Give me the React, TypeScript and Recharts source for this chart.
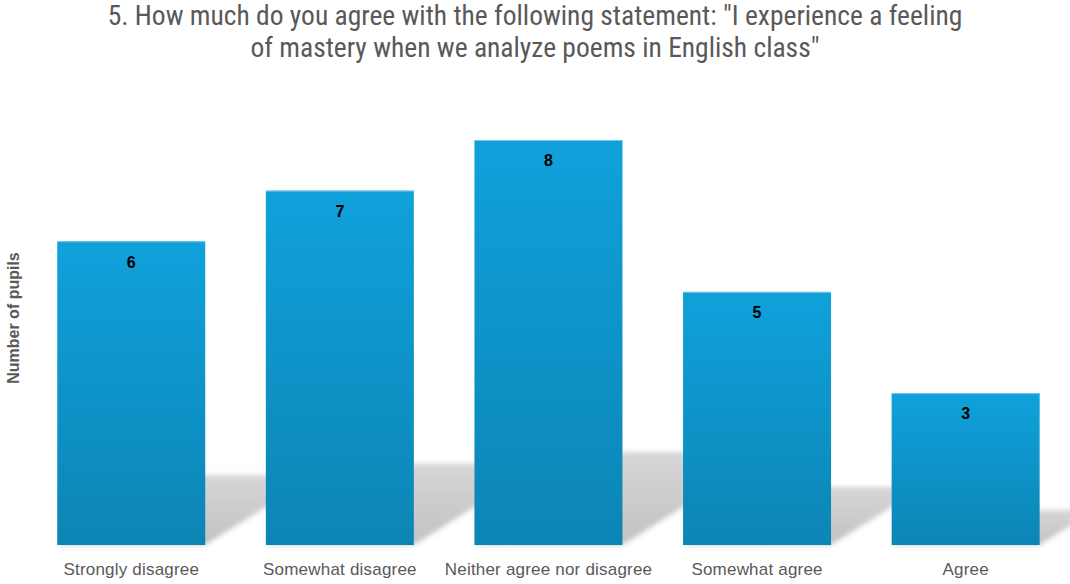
import React from 'react';
import { BarChart, Bar, XAxis, YAxis, LabelList } from 'recharts';

const categories = ['Strongly disagree', 'Somewhat disagree', 'Neither agree nor disagree', 'Somewhat agree', 'Agree'];
const pupils = [6, 7, 8, 5, 3];

const data = categories.map((c, i) => ({ category: c, pupils: pupils[i] }));

const BarShape = (props: any) => {
  const { x, y, width, height } = props;
  const base = y + height;
  const sh = height * 0.23;
  const dx = sh * 1.6;
  const pts = `${x},${base} ${x + width},${base} ${x + width + dx},${base - sh} ${x + dx},${base - sh}`;
  return (
    <g>
      <polygon points={pts} fill="url(#shadowGrad)" filter="url(#shadowBlur)" />
      <rect x={x} y={y} width={width} height={height} fill="url(#barGrad)" />
      <line x1={x} x2={x + width} y1={y + 0.5} y2={y + 0.5} stroke="#6fc6ea" strokeWidth={1} />
    </g>
  );
};

const Tick = (props: any) => {
  const { x, y, payload } = props;
  return (
    <text x={x} y={y + 22} textAnchor="middle" fill="#595959" fontSize={17} fontFamily="'Liberation Sans', Arial, sans-serif" letterSpacing={0.2}>
      {payload.value}
    </text>
  );
};

const YLabel = () => (
  <text
    transform="translate(19,318) rotate(-90)"
    textAnchor="middle"
    fill="#595959"
    fontSize={16}
    fontWeight="bold"
    fontFamily="'Liberation Sans', Arial, sans-serif"
  >
    Number of pupils
  </text>
);

export default function App() {
  return (
    <div style={{ position: 'absolute', left: 0, top: 0, width: 1070, height: 584, background: '#fff' }}>
      <div
        style={{
          position: 'absolute',
          left: 0,
          top: 0,
          width: 1070,
          textAlign: 'center',
          color: '#595959',
          fontFamily: "'Liberation Sans Narrow', 'Roboto Condensed', 'Liberation Sans', sans-serif",
          fontSize: 27.5,
          lineHeight: '32px',
        }}
      >
        5. How much do you agree with the following statement: "I experience a feeling
        <br />
        of mastery when we analyze poems in English class"
      </div>
      <BarChart
        width={1070}
        height={584}
        data={data}
        margin={{ top: 140, right: 0, bottom: 0, left: 0 }}
        barCategoryGap="14.5%"
      >
        <defs>
          <linearGradient id="barGrad" x1="0" y1="0" x2="0" y2="1">
            <stop offset="0%" stopColor="#10a1db" />
            <stop offset="100%" stopColor="#0c85b5" />
          </linearGradient>
          <linearGradient id="shadowGrad" x1="0" y1="1" x2="0" y2="0">
            <stop offset="0%" stopColor="#c2c2c2" />
            <stop offset="100%" stopColor="#d6d6d6" />
          </linearGradient>
          <filter id="shadowBlur" x="-20%" y="-20%" width="140%" height="140%">
            <feGaussianBlur stdDeviation="2.5" />
          </filter>
        </defs>
        <XAxis dataKey="category" axisLine={false} tickLine={false} tick={<Tick />} height={39} interval={0} />
        <YAxis
          domain={[0, 8]}
          width={27}
          tick={false}
          axisLine={false}
          tickLine={false}
          label={<YLabel />}
        />
        <Bar dataKey="pupils" shape={<BarShape />} isAnimationActive={false}>
          <LabelList
            dataKey="pupils"
            position="insideTop"
            offset={15}
            style={{ fill: '#000', fontSize: 16, fontWeight: 'bold', fontFamily: "'Liberation Sans', Arial, sans-serif" }}
          />
        </Bar>
      </BarChart>
    </div>
  );
}
